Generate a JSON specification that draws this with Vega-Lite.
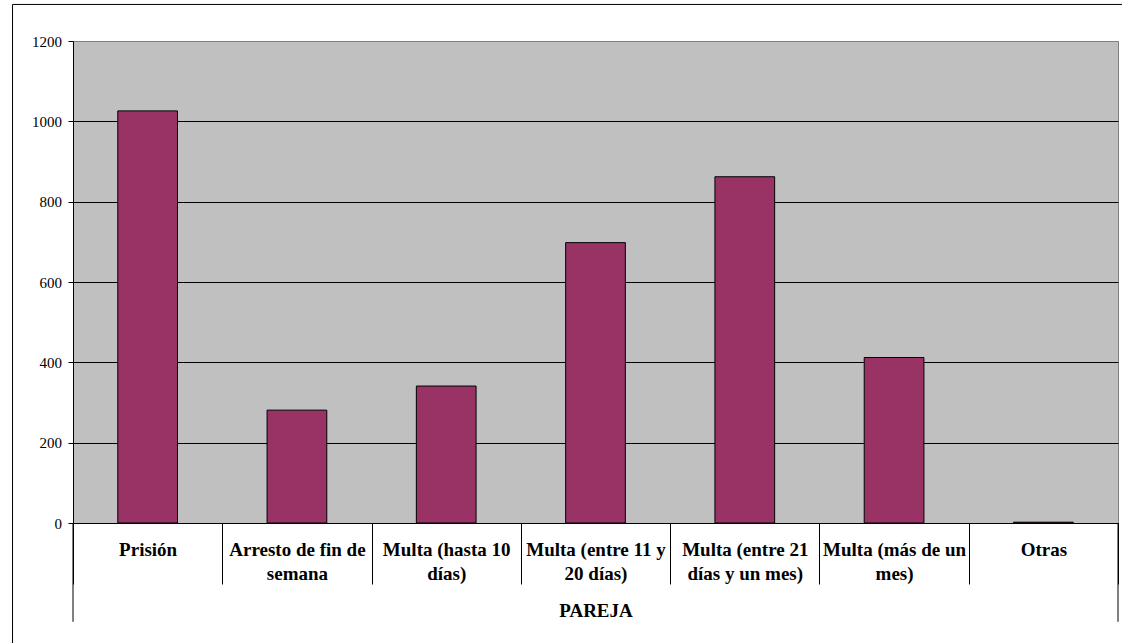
{
  "$schema": "https://vega.github.io/schema/vega-lite/v6.json",
  "width": 1045,
  "height": 482,
  "autosize": "none",
  "padding": {"left": 73, "top": 41, "right": 4, "bottom": 120},
  "background": "white",
  "config": {
    "view": {"fill": "#C0C0C0", "stroke": "#808080", "strokeWidth": 1},
    "font": "Liberation Serif"
  },
  "data": {
    "values": [
      {"categoria": "Prisión", "valor": 1026},
      {"categoria": "Arresto de fin de\nsemana", "valor": 281},
      {"categoria": "Multa (hasta 10\ndías)", "valor": 341},
      {"categoria": "Multa (entre 11 y\n20 días)", "valor": 698},
      {"categoria": "Multa (entre 21\ndías y un mes)", "valor": 862},
      {"categoria": "Multa (más de un\nmes)", "valor": 412},
      {"categoria": "Otras", "valor": 2}
    ]
  },
  "layer": [
    {
      "mark": {"type": "bar", "fill": "#993366", "stroke": "black", "strokeWidth": 1, "width": {"band": 0.4}},
      "encoding": {
        "x": {
          "field": "categoria",
          "type": "nominal",
          "sort": null,
          "scale": {
            "domain": ["Prisión", "Arresto de fin de\nsemana", "Multa (hasta 10\ndías)", "Multa (entre 11 y\n20 días)", "Multa (entre 21\ndías y un mes)", "Multa (más de un\nmes)", "Otras"],
            "paddingInner": 0,
            "paddingOuter": 0
          },
          "axis": {
            "title": "PAREJA",
            "titleFont": "Liberation Serif",
            "titleFontSize": 19,
            "titleFontWeight": "bold",
            "titleColor": "black",
            "titlePadding": 17,
            "labelAngle": 0,
            "labelFont": "Liberation Serif",
            "labelFontSize": 19,
            "labelFontWeight": "bold",
            "labelColor": "black",
            "labelLineHeight": 24,
            "labelPadding": -43.3,
            "labelLimit": 400,
            "labelExpr": "split(datum.label, '\\n')",
            "tickBand": "extent",
            "tickSize": 61,
            "tickColor": "black",
            "tickWidth": 1,
            "domainColor": "black",
            "domainWidth": 1,
            "grid": false
          }
        },
        "y": {
          "field": "valor",
          "type": "quantitative",
          "scale": {"domain": [0, 1200], "nice": false, "zero": true},
          "axis": {
            "title": null,
            "values": [0, 200, 400, 600, 800, 1000, 1200],
            "format": "d",
            "grid": true,
            "gridColor": {"condition": {"test": "datum.value === 1200", "value": "#808080"}, "value": "black"},
            "gridWidth": 1,
            "gridOpacity": 1,
            "domainColor": "black",
            "tickColor": "black",
            "tickSize": 5,
            "labelFont": "Liberation Serif",
            "labelFontSize": 15,
            "labelColor": "black",
            "labelPadding": 6.5
          }
        }
      }
    },
    {
      "data": {"values": [{}]},
      "mark": {"type": "rule", "color": "black", "strokeWidth": 1, "clip": false},
      "encoding": {
        "x": {"datum": "Prisión", "type": "nominal", "bandPosition": 0},
        "y": {"datum": 0, "type": "quantitative"},
        "y2": {"datum": -246}
      }
    },
    {
      "data": {"values": [{}]},
      "mark": {"type": "rule", "color": "black", "strokeWidth": 1, "clip": false},
      "encoding": {
        "x": {"datum": "Otras", "type": "nominal", "bandPosition": 1},
        "y": {"datum": 0, "type": "quantitative"},
        "y2": {"datum": -246}
      }
    },
    {
      "data": {"values": [{}]},
      "mark": {"type": "rule", "color": "black", "strokeWidth": 1, "clip": false},
      "encoding": {
        "x": {"datum": "Prisión", "type": "nominal", "bandPosition": -0.405},
        "y": {"datum": 1291, "type": "quantitative"},
        "y2": {"datum": -330}
      }
    },
    {
      "data": {"values": [{}]},
      "mark": {"type": "rule", "color": "black", "strokeWidth": 1, "clip": false},
      "encoding": {
        "x": {"datum": "Prisión", "type": "nominal", "bandPosition": -0.405},
        "x2": {"datum": "Otras", "bandPosition": 1.1},
        "y": {"datum": 1291, "type": "quantitative"}
      }
    }
  ]
}
